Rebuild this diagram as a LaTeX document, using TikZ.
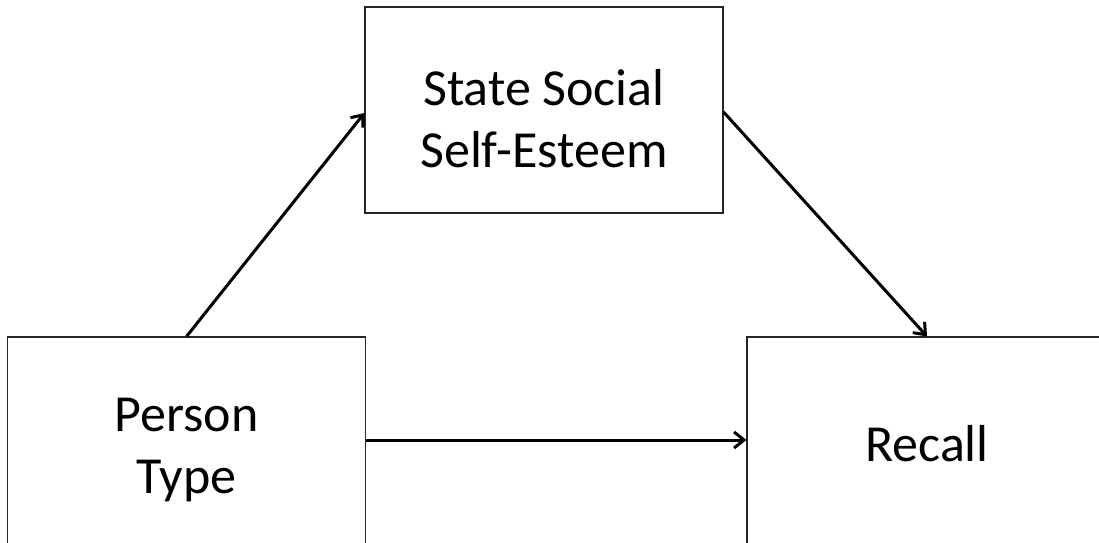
\documentclass[tikz,border=0pt]{standalone}
\usepackage{fontspec}
\setmainfont{Carlito}
\usetikzlibrary{arrows.meta}
\begin{document}
\begin{tikzpicture}[x=1pt,y=-1pt,
  box/.style={draw=black!85,line width=1.1pt,inner sep=0pt,minimum width=#1},
  lbl/.style={align=center,inner sep=0pt,font=\fontsize{52}{62}\selectfont},
  arr/.style={line width=3pt,-{Straight Barb[length=10pt,width=16pt,line width=3pt]}}]
\useasboundingbox (0,0) rectangle (1099,542);
\clip (0,0) rectangle (1099,542);
\node[box=358pt,minimum height=216pt] (lb) at (186.5,445) {};
\node[box=358pt,minimum height=206pt] (tb) at (544,110) {};
\node[box=380pt,minimum height=216pt] (rb) at (937,445) {};
\node[lbl] (lt) at (186.5,449.5) {Person\\Type};
\node[lbl] (tt) at (544,119) {State Social\\Self-Esteem};
\node[lbl] (rt) at (927,444) {Recall};
\draw[arr] (lb.north) -- ([yshift=-3pt]tb.west);
\draw[arr] ([yshift=-2pt]tb.east) -- ([xshift=-10pt]rb.north);
\draw[arr] ([yshift=5pt]lb.east) -- ([yshift=5pt]rb.west);
\end{tikzpicture}
\end{document}
